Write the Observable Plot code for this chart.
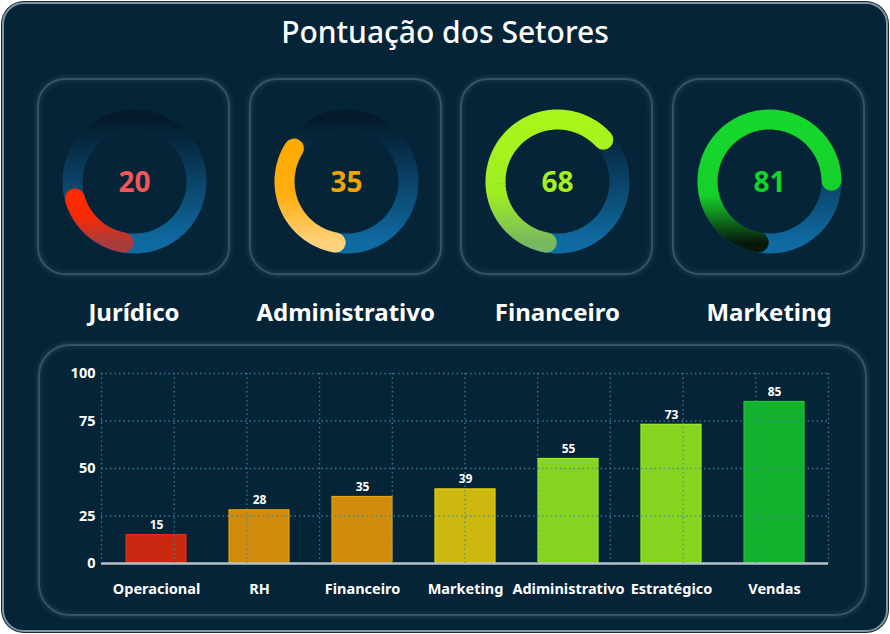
<!DOCTYPE html>
<html>
<head>
<meta charset="utf-8">
<script src="https://cdn.jsdelivr.net/npm/d3@7"></script>
<script src="https://cdn.jsdelivr.net/npm/@observablehq/plot@0.6"></script>
<style>
  html, body { margin: 0; padding: 0; background: #ffffff; }
  #root { position: relative; width: 890px; height: 634px; overflow: hidden; font-family: "Noto Sans", "Open Sans", sans-serif; }
  .frame { position: absolute; left: 2px; top: 2px; width: 886px; height: 630px; box-sizing: border-box;
           border: 2px solid #7f97a7; border-radius: 22px; background: #052438; box-shadow: 0 0 0 1px #1a2a33; }
  .title { position: absolute; left: 0; top: 12px; width: 890px; text-align: center; color: #ffffff;
           font-size: 30px; font-weight: 500; line-height: 40px; }
  .card { position: absolute; top: 78px; width: 193px; height: 197px; box-sizing: border-box; border-radius: 28px;
          border: 2px solid rgba(150,175,190,0.34);
          box-shadow: 0 0 6px rgba(150,175,190,0.25), inset 0 0 7px rgba(150,175,190,0.2); }
  .glabel { position: absolute; top: 294px; width: 240px; text-align: center; color: #ffffff;
            font-size: 24px; font-weight: 700; line-height: 36px; }
  .panel { position: absolute; left: 38px; top: 344px; width: 829px; height: 272px; box-sizing: border-box; border-radius: 32px;
           border: 2px solid rgba(150,175,190,0.34);
           box-shadow: 0 0 6px rgba(150,175,190,0.25), inset 0 0 7px rgba(150,175,190,0.2); }
  .abs { position: absolute; }
  svg { overflow: visible; }
</style>
</head>
<body>
<div id="root">
  <div class="frame"></div>
  <div class="title">Pontuação dos Setores</div>
  <div class="panel"></div>
</div>
<script>
// ---------- data ----------
const gaugeSectors = ["Jurídico", "Administrativo", "Financeiro", "Marketing"];
const gaugeScores = [20, 35, 68, 81];

const barSectors = ["Operacional", "RH", "Financeiro", "Marketing", "Adiministrativo", "Estratégico", "Vendas"];
const barScores = [15, 28, 35, 39, 55, 73, 85];
const yTicks = [0, 25, 50, 75, 100];

// ---------- styles ----------
const gaugeText = ["#f25656", "#f2a300", "#a6f01e", "#12d42a"];
const gaugeStops = [
  [["0%", "#ff2a00"], ["45%", "#f42a08"], ["100%", "#a83c3c"]],
  [["0%", "#ffaa00"], ["50%", "#ffae10"], ["100%", "#ffd27a"]],
  [["0%", "#a8f51a"], ["60%", "#a0ee22"], ["100%", "#78b860"]],
  [["0%", "#16d82c"], ["62%", "#16d02a"], ["100%", "#08180b"]]
];
const barColors = ["#c92710", "#d08b0c", "#d08c0c", "#ccb80f", "#86d41f", "#86d41f", "#13b22c"];

const root = document.getElementById("root");

// ---------- gauges ----------
const angle = d3.scaleLinear([0, 100], [0, 320]); // score -> degrees of sweep
const startDeg = 190;                            // arc starts just left of bottom
const R = 0.62;                                  // ring mid radius (plot units)

function arcPoints(a0, a1, n) {
  return d3.range(n + 1).map(k => {
    const a = (a0 + (a1 - a0) * k / n) * Math.PI / 180;
    return {x: R * Math.sin(a), y: R * Math.cos(a)};
  });
}

gaugeSectors.forEach((name, i) => {
  const cardLeft = 37 + i * 211.7;
  const card = document.createElement("div");
  card.className = "card";
  card.style.left = cardLeft + "px";
  root.appendChild(card);

  const cx = cardLeft + 97, cy = 181;
  const v = gaugeScores[i];
  const ring = arcPoints(0, 360, 180);
  const valueArc = arcPoints(startDeg, startDeg + angle(v), 120);

  const defs = () => {
    const d = d3.create("svg:defs");
    const g1 = d.append("linearGradient").attr("id", "ring" + i).attr("x1", 0).attr("y1", 0).attr("x2", 0).attr("y2", 1);
    [["0%", "#051a2b"], ["45%", "#0a3f62"], ["100%", "#0f6ca3"]].forEach(([o, c]) => g1.append("stop").attr("offset", o).attr("stop-color", c));
    const g2 = d.append("linearGradient").attr("id", "val" + i).attr("x1", 0).attr("y1", 0).attr("x2", 0).attr("y2", 1);
    gaugeStops[i].forEach(([o, c]) => g2.append("stop").attr("offset", o).attr("stop-color", c));
    return d.node();
  };

  const chart = Plot.plot({
    width: 200, height: 200, margin: 0,
    x: {domain: [-1, 1], axis: null},
    y: {domain: [-1, 1], axis: null},
    style: {background: "transparent", overflow: "visible"},
    marks: [
      defs,
      Plot.line(ring, {x: "x", y: "y", stroke: `url(#ring${i})`, strokeWidth: 20, curve: "linear"}),
      Plot.line(valueArc, {x: "x", y: "y", stroke: `url(#val${i})`, strokeWidth: 20, strokeLinecap: "round"}),
      Plot.text([v], {x: () => 0, y: () => 0, dy: 2, text: d => String(d), fill: gaugeText[i], fontSize: 28, fontWeight: 700, fontFamily: "Noto Sans"})
    ]
  });
  chart.classList.add("abs");
  chart.style.left = (cx - 100) + "px";
  chart.style.top = (cy - 100) + "px";
  root.appendChild(chart);

  const lab = document.createElement("div");
  lab.className = "glabel";
  lab.textContent = name;
  lab.style.left = (cx - 120) + "px";
  root.appendChild(lab);
});

// ---------- bar chart ----------
const bars = barSectors.map((s, i) => ({sector: s, score: barScores[i], color: barColors[i]}));
const W = 800, H = 260, ML = 61, MR = 12, MT = 23, MB = 47;

const barChart = Plot.plot({
  width: W, height: H, marginLeft: ML, marginRight: MR, marginTop: MT, marginBottom: MB,
  style: {background: "transparent", color: "#ffffff", fontFamily: "Noto Sans", fontSize: "14.5px", fontWeight: 700, overflow: "visible"},
  x: {domain: barSectors, paddingInner: 0.42, paddingOuter: 0.21, label: null, tickSize: 0, tickPadding: 20},
  y: {domain: [0, 100], ticks: yTicks, label: null, tickSize: 0, tickPadding: 6},
  marks: [
    Plot.barY(bars, {x: "sector", y: "score", fill: "color", stroke: d => d3.color(d.color).brighter(0.35).formatHex(), strokeWidth: 1.2}),
    Plot.gridY(yTicks.slice(1), {stroke: "#3f8d9c", strokeOpacity: 0.85, strokeWidth: 1.3, strokeDasharray: "1.5,3"}),
    Plot.ruleY([0], {stroke: "#b7c2c9", strokeWidth: 2.5}),
    Plot.text(bars, {x: "sector", y: "score", text: d => String(d.score), dy: -10, fill: "#ffffff", fontSize: 12, fontWeight: 700})
  ]
});
barChart.classList.add("abs");
barChart.style.left = "40px";
barChart.style.top = "350px";
root.appendChild(barChart);

// vertical dotted grid (10 even divisions across the plot frame)
const gridChart = Plot.plot({
  width: W, height: H, marginLeft: ML, marginRight: MR, marginTop: MT, marginBottom: MB,
  style: {background: "transparent", overflow: "visible"},
  x: {domain: [0, 10], axis: null},
  y: {domain: [0, 100], axis: null},
  marks: [
    Plot.gridX(d3.range(0, 11), {stroke: "#3f8d9c", strokeOpacity: 0.85, strokeWidth: 1.3, strokeDasharray: "1.5,3"})
  ]
});
gridChart.classList.add("abs");
gridChart.style.left = "40px";
gridChart.style.top = "350px";
gridChart.style.pointerEvents = "none";
root.appendChild(gridChart);
</script>
</body>
</html>
